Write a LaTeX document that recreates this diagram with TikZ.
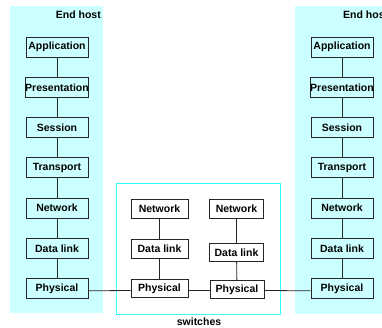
\documentclass[tikz,border=0pt]{standalone}
\usepackage{fontspec}
\setmainfont{Liberation Sans}
\usetikzlibrary{positioning}
\definecolor{hostbg}{HTML}{CCFFFF}
\definecolor{swline}{HTML}{33FFFF}
\tikzset{
  lyr/.style={draw=black!85,line width=0.9pt,fill=hostbg,minimum width=62pt,minimum height=20pt,inner sep=0pt,font=\fontsize{10.5}{12}\selectfont\bfseries},
  swlyr/.style={lyr,fill=white,minimum width=57pt,minimum height=18.5pt},
  lbl/.style={font=\fontsize{10.5}{12}\selectfont\bfseries,inner sep=0pt}
}
\begin{document}
\begin{tikzpicture}[x=1pt,y=1pt,node distance=40.3pt,on grid]
    \useasboundingbox (0,0) rectangle (382,327);
    \clip (0,0) rectangle (382,327);
    % hosts and switch frame
    \fill[hostbg] (10,14) rectangle (103,321);
    \fill[hostbg] (295,13) rectangle (400,321);
    \draw[swline,line width=1pt] (116,13) rectangle (280,144);
    \node[lbl,anchor=east] (Lhost) at (101,312) {End host};
    \node[lbl,anchor=west] (Rhost) at (343,312) {End host};
    \node[lbl] (sw) at (199,5.5) {switches};
    % left host
    \node[lyr] (Lapp) at (57,280) {Application};
    \node[lyr] (Lpres) [below=of Lapp] {Presentation};
    \node[lyr] (Lsess) [below=of Lpres] {Session};
    \node[lyr] (Ltrans) [below=of Lsess] {Transport};
    \node[lyr] (Lnet) [below=of Ltrans] {Network};
    \node[lyr] (Ldl) [below=of Lnet] {Data link};
    \node[lyr] (Lphy) [below=of Ldl] {Physical};
    % right host
    \node[lyr] (Rapp) at (342,280) {Application};
    \node[lyr] (Rpres) [below=of Rapp] {Presentation};
    \node[lyr] (Rsess) [below=of Rpres] {Session};
    \node[lyr] (Rtrans) [below=of Rsess] {Transport};
    \node[lyr] (Rnet) [below=of Rtrans] {Network};
    \node[lyr] (Rdl) [below=of Rnet] {Data link};
    \node[lyr] (Rphy) [below=of Rdl] {Physical};
    % switches
    \node[swlyr] (S1net) at (159.5,118) {Network};
    \node[swlyr] (S1dl) [below=40pt of S1net] {Data link};
    \node[swlyr] (S1phy) [below=39.5pt of S1dl] {Physical};
    \node[swlyr,minimum width=54pt] (S2net) at (236.5,118) {Network};
    \node[swlyr,minimum width=54pt] (S2dl) at (236.5,74.5) {Data link};
    \node[swlyr,minimum width=54pt] (S2phy) at (237,37.5) {Physical};
    % links
    \path[draw=black!85,line width=0.8pt]
    (Lapp) edge (Lpres) (Lpres) edge (Lsess) (Lsess) edge (Ltrans)
    (Ltrans) edge (Lnet) (Lnet) edge (Ldl) (Ldl) edge (Lphy)
    (Rapp) edge (Rpres) (Rpres) edge (Rsess) (Rsess) edge (Rtrans)
    (Rtrans) edge (Rnet) (Rnet) edge (Rdl) (Rdl) edge (Rphy)
    (S1net) edge (S1dl) (S1dl) edge (S1phy)
    (S2net) edge (S2dl) (S2dl) edge (S2phy)
    ([yshift=-2pt]Lphy.east) edge ([yshift=-2pt]S1phy.west)
    ([yshift=-2pt]S1phy.east) edge ([yshift=-1pt]S2phy.west)
    ([yshift=-1pt]S2phy.east) edge ([yshift=-2pt]Rphy.west);
\end{tikzpicture}
\end{document}
